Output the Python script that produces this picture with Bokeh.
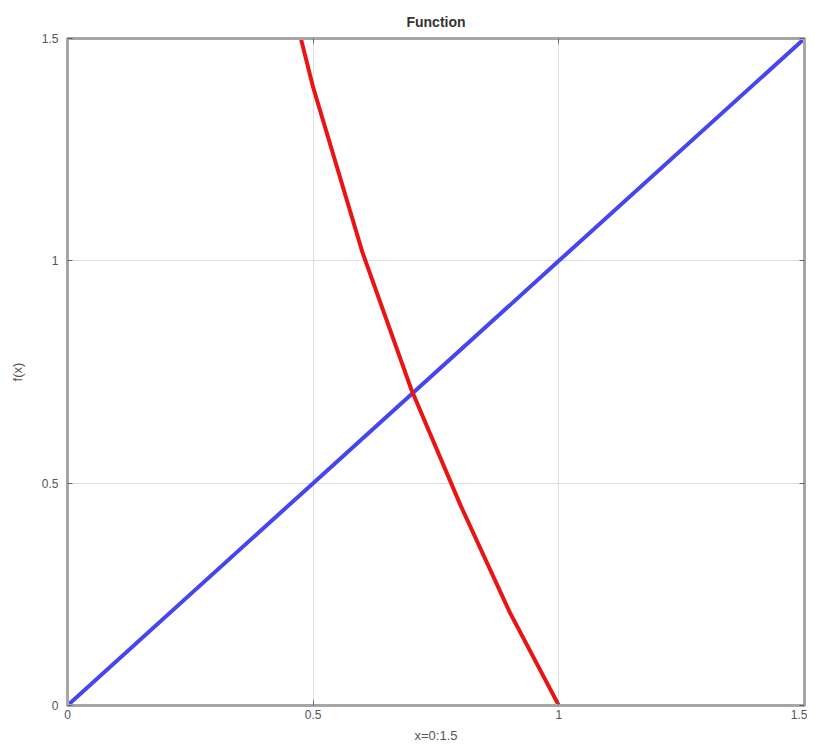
from bokeh.plotting import figure
from bokeh.models import FixedTicker, LinearAxis, Range1d
from bokeh.embed import file_html
from bokeh.resources import INLINE

# data
x_line = [0, 0.5, 1.0, 1.5]
y_line = [0, 0.5, 1.0, 1.5]
x_curve = [0.4, 0.5, 0.6, 0.7, 0.8, 0.9, 1.0]
y_curve = [1.83, 1.39, 1.02, 0.71, 0.45, 0.21, 0.0]
ticks = [0, 0.5, 1, 1.5]
tick_labels = {0: "0", 0.5: "0.5", 1: "1", 1.5: "1.5"}

FONT = "Liberation Sans"
TXT = "#555555"
FRAME = "#a6a6a6"

p = figure(width=807, height=750, output_backend="svg", toolbar_location=None,
           x_range=Range1d(0, 1.5), y_range=Range1d(0, 1.5),
           title="Function", min_border_left=67, min_border_right=3,
           min_border_top=38, min_border_bottom=45)
p.title.align = "center"
p.title.text_font = FONT
p.title.text_font_size = "14px"
p.title.text_font_style = "bold"
p.title.text_color = "#333333"
p.title.standoff = 18

p.outline_line_color = FRAME
p.outline_line_width = 3
p.background_fill_color = "white"
p.border_fill_color = "white"

for ax in (p.xaxis[0], p.yaxis[0]):
    ax.ticker = FixedTicker(ticks=ticks)
    ax.major_label_overrides = tick_labels
    ax.major_tick_in = 5
    ax.major_tick_out = 0
    ax.minor_tick_in = 0
    ax.minor_tick_out = 0
    ax.major_tick_line_color = "#666666"
    ax.axis_line_color = FRAME
    ax.axis_line_width = 3
    ax.major_label_text_font = FONT
    ax.major_label_text_font_size = "12px"
    ax.major_label_text_color = TXT
    ax.axis_label_text_font = FONT
    ax.axis_label_text_font_size = "13px"
    ax.axis_label_text_font_style = "normal"
    ax.axis_label_text_color = TXT

p.xaxis.axis_label = "x=0:1.5"
p.yaxis.axis_label = "f(x)"
p.xaxis.major_label_standoff = 4
p.xaxis.axis_label_standoff = 6
p.yaxis.major_label_standoff = 9
p.yaxis.axis_label_standoff = 14

for loc in ("above", "right"):
    a = LinearAxis(ticker=FixedTicker(ticks=ticks), major_tick_in=5, major_tick_out=0,
                   minor_tick_in=0, minor_tick_out=0, axis_line_color=FRAME,
                   axis_line_width=3, major_label_overrides={t: "" for t in ticks},
                   major_label_standoff=0, major_tick_line_color="#666666")
    p.add_layout(a, loc)

p.xgrid.ticker = FixedTicker(ticks=ticks)
p.ygrid.ticker = FixedTicker(ticks=ticks)
p.grid.grid_line_color = "#dddddd"
p.grid.grid_line_width = 1

p.line(x_line, y_line, line_color="#4646ee", line_width=4)
p.line(x_curve, y_curve, line_color="#e81515", line_width=4)

open("out.html", "w").write(file_html(p, INLINE))
